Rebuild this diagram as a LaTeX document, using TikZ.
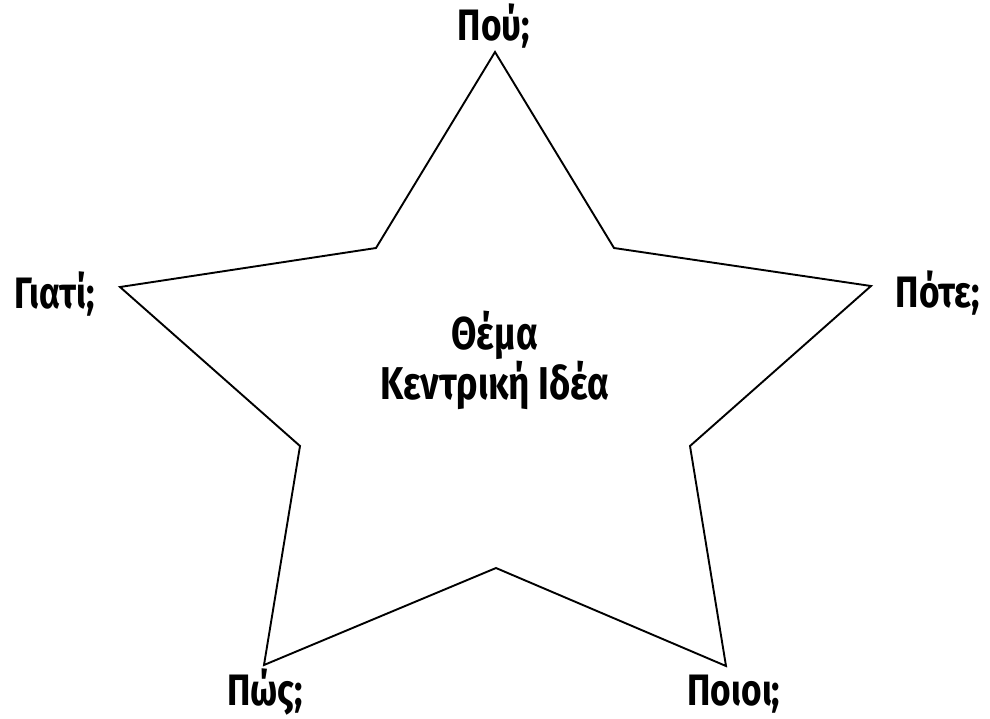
\documentclass[tikz,border=0pt]{standalone}
\usepackage{fontspec}
\newfontfamily\lblfont{Fira Sans}[FakeStretch=0.8]
\usetikzlibrary{calc}

\begin{document}
\begin{tikzpicture}[x=1pt,y=-1pt,
  lbl/.style={anchor=base,inner sep=0pt,font=\lblfont\bfseries\fontsize{44}{48}\selectfont},
  topic/.style={align=center,inner sep=0pt,font=\lblfont\bfseries\fontsize{46}{50}\selectfont}]
  \useasboundingbox (0,0) rectangle (990,718);
  % outer tips and inner corners of the star
  \coordinate (T1) at (495,52);  \coordinate (I1) at (614,248);
  \coordinate (T2) at (871,286); \coordinate (I2) at (690,446);
  \coordinate (T3) at (726,666); \coordinate (I3) at (496,568);
  \coordinate (T4) at (264,665); \coordinate (I4) at (300,446);
  \coordinate (T5) at (120,287); \coordinate (I5) at (376,248);
  \draw[line width=1.9pt,line join=miter] (T1) -- (I1) -- (T2) -- (I2) -- (T3) -- (I3) -- (T4) -- (I4) -- (T5) -- (I5) -- cycle;
  \node[lbl] (pou) at (494,40) {Πού;};
  \node[lbl] (pote) at (938,307) {Πότε;};
  \node[lbl] (giati) at (55,308) {Γιατί;};
  \node[lbl] (pos) at (265,705) {Πώς;};
  \node[lbl] (poioi) at (734,705) {Ποιοι;};
  \node[topic] (thema) at (495,360) {Θέμα\\Κεντρική Ιδέα};
\end{tikzpicture}
\end{document}
